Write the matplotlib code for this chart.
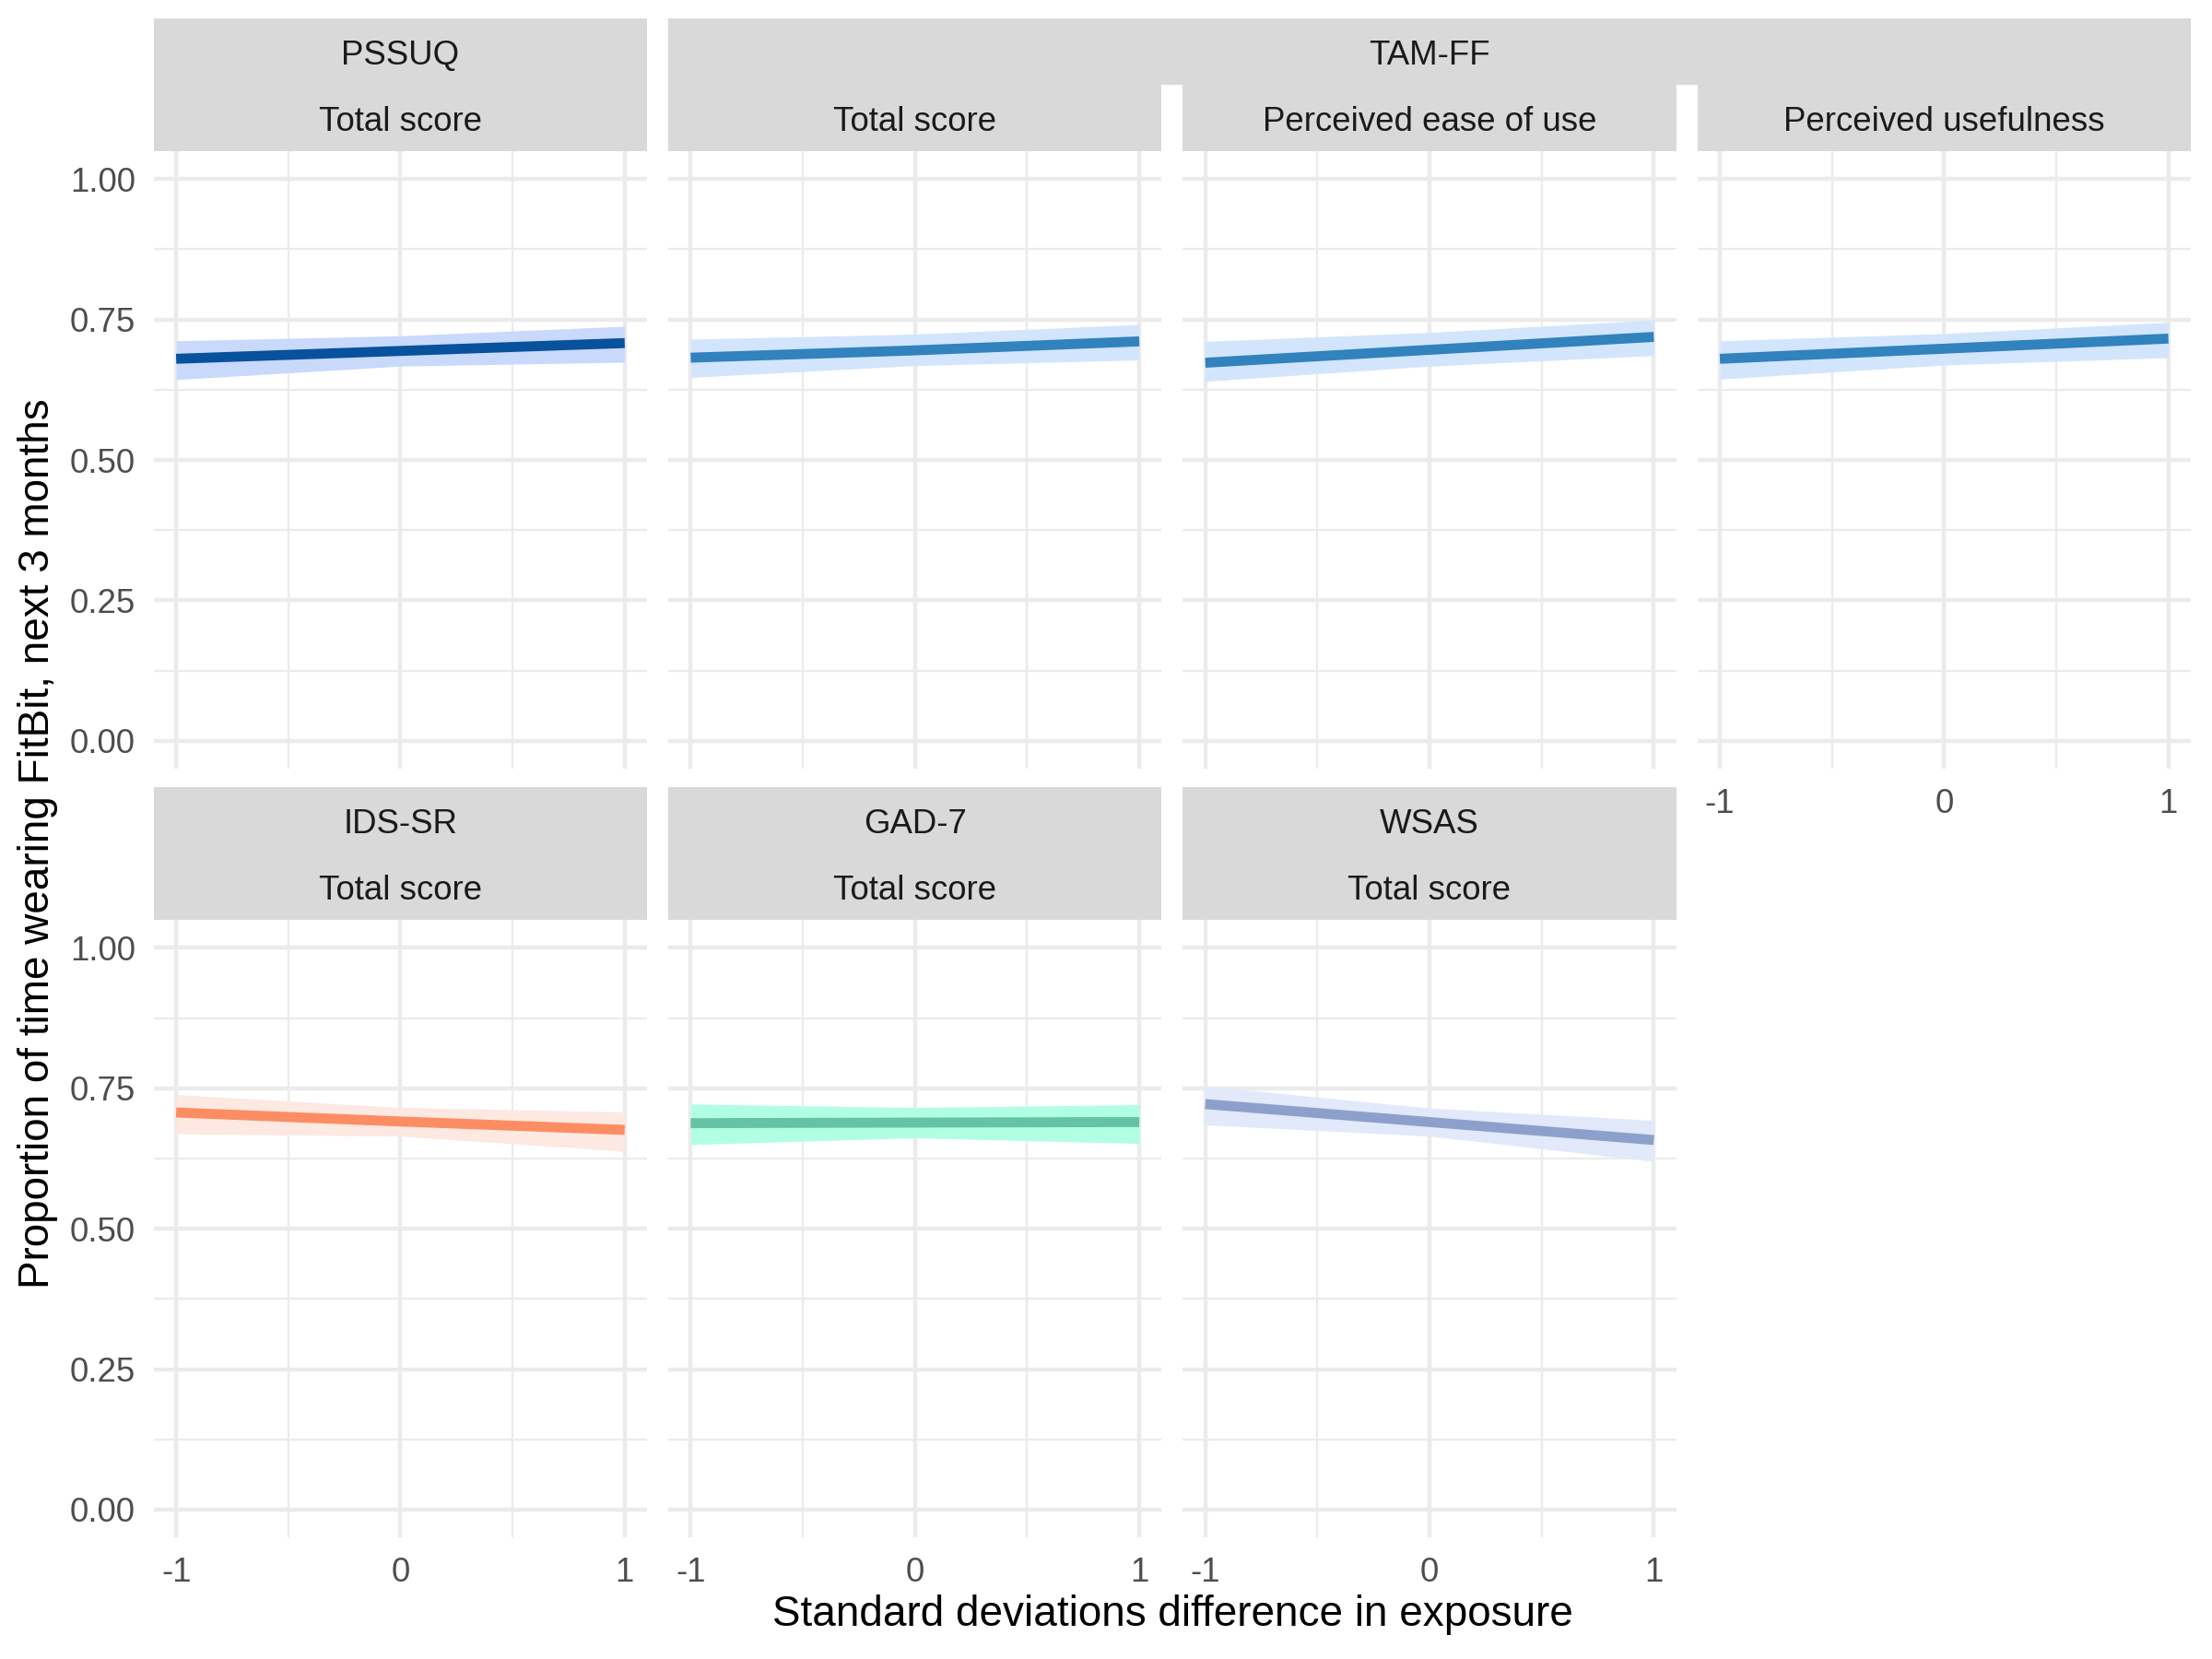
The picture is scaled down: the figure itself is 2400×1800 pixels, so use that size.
#!/usr/bin/env python3
"""
Faceted exposure-response plot: proportion of time wearing FitBit over the
next 3 months vs. standard-deviation change in each questionnaire score.
"""

import matplotlib
matplotlib.use("Agg")
import matplotlib.pyplot as plt
from matplotlib.patches import Rectangle

plt.rcParams["font.family"] = ["Liberation Sans", "DejaVu Sans"]

# ---- data ----
x_sd = [-1, 0, 1]

pssuq_fit = [0.680, 0.694, 0.708]
pssuq_lo = [0.643, 0.667, 0.674]
pssuq_hi = [0.712, 0.721, 0.738]

tam_total_fit = [0.682, 0.695, 0.711]
tam_total_lo = [0.647, 0.668, 0.678]
tam_total_hi = [0.715, 0.724, 0.741]

tam_peou_fit = [0.673, 0.696, 0.719]
tam_peou_lo = [0.640, 0.667, 0.686]
tam_peou_hi = [0.711, 0.727, 0.749]

tam_pu_fit = [0.680, 0.698, 0.716]
tam_pu_lo = [0.644, 0.669, 0.682]
tam_pu_hi = [0.712, 0.725, 0.745]

ids_fit = [0.707, 0.691, 0.676]
ids_lo = [0.669, 0.665, 0.638]
ids_hi = [0.739, 0.716, 0.708]

gad_fit = [0.688, 0.689, 0.690]
gad_lo = [0.650, 0.662, 0.652]
gad_hi = [0.722, 0.716, 0.721]

wsas_fit = [0.722, 0.690, 0.658]
wsas_lo = [0.685, 0.665, 0.620]
wsas_hi = [0.754, 0.715, 0.693]

x_ticks = [-1, 0, 1]
x_tick_labels = ["-1", "0", "1"]
y_ticks = [0.0, 0.25, 0.50, 0.75, 1.0]
y_tick_labels = ["0.00", "0.25", "0.50", "0.75", "1.00"]

# (row, col, fit, lo, hi, line colour, ribbon colour)
panels = [
    (0, 0, pssuq_fit, pssuq_lo, pssuq_hi, "#08519C", "#C9D9FB"),
    (0, 1, tam_total_fit, tam_total_lo, tam_total_hi, "#3182BD", "#D2E5FC"),
    (0, 2, tam_peou_fit, tam_peou_lo, tam_peou_hi, "#3182BD", "#D2E5FC"),
    (0, 3, tam_pu_fit, tam_pu_lo, tam_pu_hi, "#3182BD", "#D2E5FC"),
    (1, 0, ids_fit, ids_lo, ids_hi, "#FC8D62", "#FDE8E2"),
    (1, 1, gad_fit, gad_lo, gad_hi, "#66C2A5", "#B0FFE2"),
    (1, 2, wsas_fit, wsas_lo, wsas_hi, "#8DA0CB", "#E2E9FB"),
]

# ---- layout in pixels of the 2400x1800 output ----
W, H = 2400, 1800
LEFT = 166.8
PW = 535.3
GAP = 23.0
ROW_TOP = [163.8, 998.0]
PH = 670.4
STRIP_GREY = "#D9D9D9"
TEXT_SHIFT = 4.6  # strip labels sit a bit below the box centre


def col_x(c):
    return LEFT + c * (PW + GAP)


def fig_rect(x0, y0, w, h):
    # pixel box (top-left origin) -> figure fraction
    return [x0 / W, 1 - (y0 + h) / H, w / W, h / H]


def add_strip(fig, x0, y0, w, h):
    fig.add_artist(Rectangle((x0 / W, 1 - (y0 + h) / H), w / W, h / H,
                             transform=fig.transFigure, facecolor=STRIP_GREY,
                             edgecolor="none", zorder=0))


def strip_text(fig, xc, yc, s):
    fig.text(xc / W, 1 - (yc + TEXT_SHIFT) / H, s, ha="center", va="center",
             fontsize=8.8, color="#1A1A1A")


fig = plt.figure(figsize=(8, 6), dpi=300)

for row, col, fit, lo, hi, line_c, rib_c in panels:
    ax = fig.add_axes(fig_rect(col_x(col), ROW_TOP[row], PW, PH))
    ax.fill_between(x_sd, lo, hi, color=rib_c, linewidth=0, zorder=2)
    ax.plot(x_sd, fit, color=line_c, linewidth=2.6, solid_capstyle="butt", zorder=3)

    ax.set_xlim(-1.1, 1.1)
    ax.set_ylim(-0.05, 1.05)
    ax.set_xticks(x_ticks)
    ax.set_xticks([-0.5, 0.5], minor=True)
    ax.set_yticks(y_ticks)
    ax.set_yticks([0.125, 0.375, 0.625, 0.875], minor=True)
    ax.grid(True, which="major", color="#EBEBEB", linewidth=1.07)
    ax.grid(True, which="minor", color="#EBEBEB", linewidth=0.53)
    ax.set_axisbelow(True)
    for sp in ax.spines.values():
        sp.set_visible(False)
    ax.tick_params(which="both", length=0, labelsize=8.8, labelcolor="#4D4D4D")
    ax.tick_params(axis="y", pad=4.8)
    ax.tick_params(axis="x", pad=5.0)

    if col == 0:
        ax.set_yticklabels(y_tick_labels)
    else:
        ax.set_yticklabels([])
    if row == 1 or col == 3:
        ax.set_xticklabels(x_tick_labels)
    else:
        ax.set_xticklabels([])

# ---- strips ----
ONE_ROW_H = 72.0
top_strip_y = ROW_TOP[0] - 2 * ONE_ROW_H
bot_strip_y = ROW_TOP[1] - 2 * ONE_ROW_H

# PSSUQ (single two-line strip)
add_strip(fig, col_x(0), top_strip_y, PW, 2 * ONE_ROW_H)
strip_text(fig, col_x(0) + PW / 2, top_strip_y + ONE_ROW_H / 2, "PSSUQ")
strip_text(fig, col_x(0) + PW / 2, top_strip_y + 1.5 * ONE_ROW_H, "Total score")

# TAM-FF nested strip
tam_x0 = col_x(1)
tam_w = col_x(3) + PW - tam_x0
add_strip(fig, tam_x0, top_strip_y, tam_w, ONE_ROW_H)
strip_text(fig, tam_x0 + tam_w / 2, top_strip_y + ONE_ROW_H / 2, "TAM-FF")
tam_sub = ["Total score", "Perceived ease of use", "Perceived usefulness"]
for i, lab in enumerate(tam_sub):
    c = i + 1
    add_strip(fig, col_x(c), top_strip_y + ONE_ROW_H, PW, ONE_ROW_H)
    strip_text(fig, col_x(c) + PW / 2, top_strip_y + 1.5 * ONE_ROW_H, lab)

# bottom row strips
bottom_names = ["IDS-SR", "GAD-7", "WSAS"]
for c, name in enumerate(bottom_names):
    add_strip(fig, col_x(c), bot_strip_y, PW, 2 * ONE_ROW_H)
    strip_text(fig, col_x(c) + PW / 2, bot_strip_y + ONE_ROW_H / 2, name)
    strip_text(fig, col_x(c) + PW / 2, bot_strip_y + 1.5 * ONE_ROW_H, "Total score")

# ---- axis titles ----
panels_right = col_x(3) + PW
fig.text((LEFT + panels_right) / 2 / W, 1 - 1752 / H,
         "Standard deviations difference in exposure",
         ha="center", va="center", fontsize=11, color="black")
fig.text(41 / W, 1 - 915 / H, "Proportion of time wearing FitBit, next 3 months",
         ha="center", va="center", rotation=90, fontsize=11, color="black")

fig.savefig("out.png", dpi=300, facecolor="white")
plt.close(fig)
